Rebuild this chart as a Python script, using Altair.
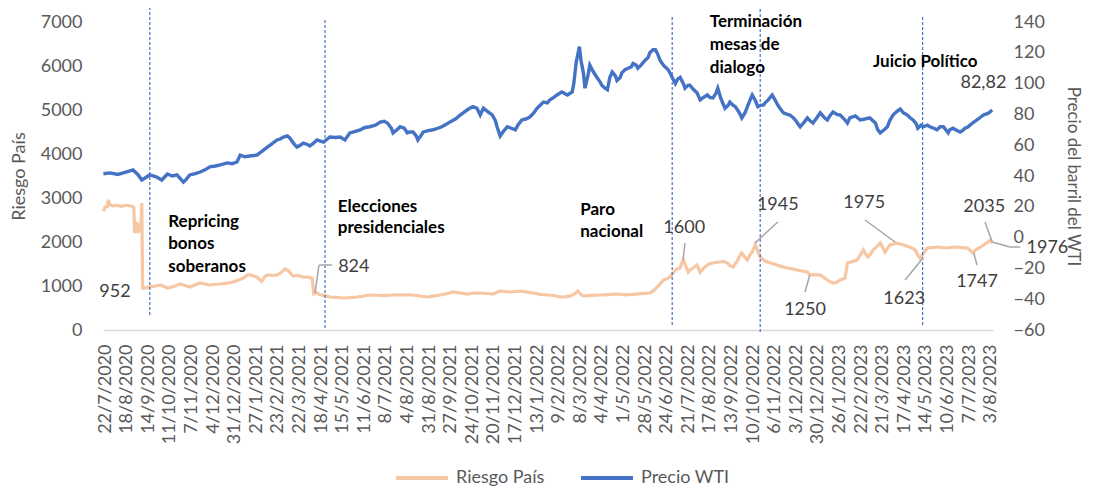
import altair as alt
import pandas as pd

# ---------------- data ----------------
START = pd.Timestamp("2020-07-22")  # day 0 of the offsets below

tick_labels = ["22/7/2020", "18/8/2020", "14/9/2020", "11/10/2020", "7/11/2020", "4/12/2020",
               "31/12/2020", "27/1/2021", "23/2/2021", "22/3/2021", "18/4/2021", "15/5/2021",
               "11/6/2021", "8/7/2021", "4/8/2021", "31/8/2021", "27/9/2021", "24/10/2021",
               "20/11/2021", "17/12/2021", "13/1/2022", "9/2/2022", "8/3/2022", "4/4/2022",
               "1/5/2022", "28/5/2022", "24/6/2022", "21/7/2022", "17/8/2022", "13/9/2022",
               "10/10/2022", "6/11/2022", "3/12/2022", "30/12/2022", "26/1/2023", "22/2/2023",
               "21/3/2023", "17/4/2023", "14/5/2023", "10/6/2023", "7/7/2023", "3/8/2023"]

left_ticks = [0, 1000, 2000, 3000, 4000, 5000, 6000, 7000]
right_ticks = [-60, -40, -20, 0, 20, 40, 60, 80, 100, 120, 140]

series_names = ["Riesgo País", "Precio WTI"]
series_colors = ["#F7C6A3", "#4472C4"]

# Precio WTI (days since 22/7/2020, USD)
wti_day = [-2, 6, 16, 26, 35, 41, 46, 51, 56, 64, 71, 78, 84, 90, 98, 101, 106, 113, 119, 125,
           131, 138, 144, 153, 159, 165, 169, 175, 181, 190, 196, 203, 209, 215, 219, 223, 228,
           231, 236, 240, 244, 248, 253, 256, 260, 265, 273, 278, 281, 288, 294, 300, 306, 313,
           319, 325, 331, 338, 344, 349, 353, 358, 360, 365, 369, 374, 378, 381, 385, 389, 391,
           398, 404, 410, 416, 421, 426, 431, 438, 444, 449, 453, 456, 460, 465, 469, 473, 478,
           484, 488, 490, 494, 498, 503, 508, 513, 516, 521, 526, 531, 536, 540, 544, 548, 553,
           556, 561, 565, 571, 578, 584, 586, 589, 593, 595, 598, 600, 604, 606, 610, 615, 619,
           621, 625, 628, 631, 634, 638, 640, 644, 646, 650, 654, 658, 660, 664, 666, 670, 675,
           679, 681, 685, 688, 691, 694, 698, 700, 704, 706, 710, 713, 716, 719, 723, 725, 729,
           731, 736, 740, 744, 748, 753, 756, 760, 764, 766, 770, 775, 779, 781, 785, 788, 793,
           796, 800, 803, 806, 809, 813, 816, 820, 823, 826, 829, 834, 838, 841, 845, 848, 853,
           856, 860, 863, 866, 869, 874, 878, 881, 885, 890, 894, 899, 903, 906, 910, 915, 919,
           924, 928, 931, 938, 944, 950, 956, 963, 966, 969, 974, 978, 981, 985, 990, 994, 998,
           1003, 1006, 1010, 1014, 1016, 1020, 1023, 1028, 1031, 1036, 1040, 1044, 1048, 1051,
           1054, 1056, 1060, 1065, 1069, 1073, 1075, 1079, 1081, 1086, 1090, 1094, 1098, 1103,
           1106, 1109]
wti_val = [41.5, 42, 41, 42.5, 43.9, 41, 37.4, 39, 40.7, 39.5, 37.4, 41.3, 40, 40.7, 36, 37.5,
           40.7, 41.5, 42.6, 44, 45.9, 46.5, 47.2, 48.5, 48, 49.1, 53.6, 52.5, 53, 53.6, 56, 58.8,
           61, 63.4, 64, 65.3, 66, 64.7, 61, 58.8, 60, 61.4, 60.5, 59.5, 61, 63.4, 62, 64, 65.3,
           65, 65.3, 63.4, 68, 69, 70, 71.5, 72, 73, 75, 75.5, 74.4, 71, 68, 70, 72, 71, 68, 68.6,
           68.6, 66, 63.4, 68.6, 69.5, 70, 71, 72, 73.5, 75, 77, 79.6, 81.5, 83, 84, 85, 84, 79.6,
           84, 82, 79.6, 76, 72, 66, 69, 72, 71, 70, 73, 76.4, 77, 78.3, 81, 84, 86, 88, 87.5,
           89.4, 91, 92.6, 94.6, 92.6, 94.6, 100, 114, 124, 115, 107, 97, 106, 112, 108, 104,
           101, 99, 97, 96, 104, 107.5, 105, 102, 104, 107, 109, 110, 111, 113, 112, 110, 112,
           115, 117, 120, 122, 122, 119, 115, 112, 111, 109, 107, 103, 100, 103, 104, 100, 97,
           99, 99, 96, 94, 89.4, 91, 92.6, 91, 90.7, 94, 97, 90, 84, 86, 88, 86, 85, 81, 77.7,
           81, 85, 89, 92.6, 89, 85, 86, 86, 88, 89.4, 92.6, 89, 86, 83, 81, 80, 79.6, 78, 76.4,
           74, 72, 75, 77.7, 76, 74.4, 78, 81, 78, 76.4, 79, 81.6, 80, 79.6, 77, 74.4, 77.7, 79,
           76.4, 77, 77.7, 74.4, 70, 68, 70, 72, 76, 79.6, 82, 83.5, 81, 79.6, 78, 76.4, 74, 71,
           73, 72, 73, 72, 71, 70, 72, 72, 70, 68, 70, 71, 69.5, 68.6, 70, 71, 72, 73, 75, 76.4,
           78, 79.6, 80.5, 81.5, 82.82]

# Riesgo País (days since 22/7/2020, points)
riesgo_day = [-2, 0, 3, 4, 6, 10, 15, 20, 25, 30, 35, 36, 37, 39, 40, 41, 42, 45, 46, 47, 50,
              56, 63, 69, 74, 78, 84, 89, 94, 100, 106, 113, 119, 125, 131, 138, 144, 151, 160,
              166, 173, 178, 181, 185, 190, 196, 200, 203, 209, 215, 220, 225, 229, 235, 241,
              248, 254, 259, 261, 264, 269, 275, 281, 290, 298, 306, 315, 323, 331, 339, 348,
              356, 363, 369, 378, 385, 394, 403, 410, 419, 428, 435, 444, 453, 460, 469, 478,
              485, 494, 500, 506, 513, 519, 528, 535, 544, 553, 560, 566, 573, 581, 588, 591,
              595, 598, 606, 619, 629, 640, 650, 660, 670, 681, 686, 690, 694, 698, 703, 706,
              710, 713, 716, 719, 721, 723, 725, 729, 731, 735, 740, 744, 748, 753, 756, 760,
              765, 769, 773, 778, 781, 785, 790, 794, 796, 800, 803, 806, 809, 813, 816, 819,
              824, 828, 834, 840, 846, 853, 859, 865, 871, 878, 881, 885, 890, 894, 899, 903,
              906, 910, 915, 919, 923, 925, 928, 931, 935, 940, 944, 948, 951, 954, 958, 960,
              965, 969, 973, 975, 979, 981, 985, 988, 993, 998, 1003, 1006, 1010, 1013, 1016,
              1019, 1023, 1028, 1034, 1040, 1046, 1053, 1059, 1065, 1071, 1078, 1081, 1085,
              1089, 1094, 1098, 1103, 1106, 1109]
riesgo_val = [2700, 2796, 2800, 2955, 2850, 2820, 2830, 2810, 2830, 2830, 2800, 2790, 2205,
              2300, 2455, 2205, 2250, 2400, 2886, 952, 952, 980, 1000, 1023, 990, 955, 980,
              1010, 1045, 1010, 977, 1030, 1068, 1045, 1023, 1040, 1045, 1060, 1090, 1130, 1182,
              1250, 1260, 1230, 1200, 1100, 1220, 1250, 1240, 1250, 1300, 1386, 1350, 1227,
              1240, 1205, 1200, 1170, 824, 850, 800, 780, 750, 740, 727, 735, 750, 770, 795,
              790, 780, 790, 800, 795, 800, 795, 770, 750, 770, 795, 830, 864, 840, 818, 840,
              841, 830, 818, 886, 870, 864, 875, 886, 860, 841, 810, 795, 790, 760, 750, 770,
              830, 886, 800, 773, 785, 795, 805, 818, 800, 810, 825, 841, 900, 977, 1050, 1136,
              1170, 1205, 1290, 1364, 1390, 1409, 1520, 1600, 1500, 1318, 1360, 1409, 1477,
              1310, 1400, 1477, 1510, 1523, 1540, 1545, 1560, 1523, 1460, 1432, 1560, 1700,
              1750, 1650, 1590, 1700, 1773, 1945, 1780, 1659, 1580, 1545, 1510, 1477, 1440,
              1409, 1390, 1364, 1340, 1318, 1250, 1260, 1255, 1250, 1190, 1136, 1100, 1068,
              1090, 1136, 1160, 1182, 1523, 1540, 1560, 1590, 1700, 1818, 1720, 1659, 1750,
              1818, 1900, 1977, 1850, 1773, 1880, 1932, 1950, 1975, 1960, 1932, 1900, 1886,
              1850, 1818, 1700, 1623, 1750, 1864, 1870, 1886, 1875, 1864, 1880, 1886, 1870,
              1864, 1820, 1747, 1830, 1880, 1932, 1990, 2035, 1976]

# events (vertical dashed lines), extents in Riesgo País units
event_day = [56, 275, 709, 819, 1022]
event_low = [341, 45, 114, -45, 114]
event_high = [7341, 7091, 7114, 7500, 7160]

# bold event annotations, one entry per text line
ann_text = ["Repricing", "bonos", "soberanos", "Elecciones", "presidenciales", "Paro",
            "nacional", "Terminación", "mesas de", "dialogo", "Juicio Político"]
ann_day = [79, 79, 79, 291, 291, 594, 594, 756, 756, 756, 960]
ann_val = [2455, 1955, 1432, 2796, 2318, 2728, 2228, 7000, 6480, 5960, 6091]

# data labels
lab_text = ["952", "824", "1600", "1945", "1250", "1975", "1623", "1747", "2035", "1976", "82,82"]
lab_day = [12.5, 311, 724, 841, 875, 949, 999, 1090, 1099, 1178, 1098]
lab_val = [864, 1432, 2318, 2841, 455, 2887, 705, 1091, 2796, 1864, 5614]

# leader lines of the data labels
lead_day = [262.5, 267.5, 722.5, 812.5, 881, 987.5, 1022.5, 1086, 1109, 1109, 1131]
lead_day2 = [267.5, 284, 725, 841, 875, 950, 1000, 1090, 1100, 1131, 1144]
lead_val = [841, 1477, 1591, 1977, 1250, 2000, 1636, 1750, 2000, 2000, 1886]
lead_val2 = [1477, 1477, 1977, 2455, 864, 2500, 1136, 1477, 2455, 1886, 1886]


# ---------------- tables ----------------
def to_ms(days):
    return [int((START + pd.Timedelta(days=float(d))).value // 10**6) for d in days]


riesgo_df = pd.DataFrame({"date": to_ms(riesgo_day), "v": riesgo_val, "s": series_names[0]})
wti_df = pd.DataFrame({"date": to_ms(wti_day), "w": wti_val, "s": series_names[1]})
event_df = pd.DataFrame({"date": to_ms(event_day), "v": event_low, "v2": event_high})
ann_df = pd.DataFrame({"date": to_ms(ann_day), "v": ann_val, "t": ann_text})
lab_df = pd.DataFrame({"date": to_ms(lab_day), "v": lab_val, "t": lab_text})
lead_df = pd.DataFrame({"date": to_ms(lead_day), "date2": to_ms(lead_day2),
                        "v": lead_val, "v2": lead_val2})


def dt(label):
    d, m, y = (int(p) for p in label.split("/"))
    return alt.DateTime(year=y, month=m, date=d, utc=True)


tick_dates = [dt(s) for s in tick_labels]

FONT = "Lato"
GREY = "#595959"

x_enc = alt.X(
    "date:T",
    scale=alt.Scale(type="utc",
                    domain=[alt.DateTime(year=2020, month=7, date=19, hours=12, utc=True),
                            alt.DateTime(year=2023, month=8, date=6, utc=True)]),
    axis=alt.Axis(values=tick_dates, labelExpr="utcFormat(datum.value, '%-d/%-m/%Y')",
                  labelAngle=270, labelPadding=14, ticks=False, tickSize=0, grid=False,
                  domainColor="#D9D9D9", domainWidth=1.5, labelFont=FONT, labelFontSize=18,
                  labelColor=GREY, labelOverlap=False, labelFlush=False, title=None),
)

left_axis = alt.Axis(title="Riesgo País", values=left_ticks, format="d", domain=False,
                     ticks=False, tickSize=0, grid=False, labelPadding=21, labelFont=FONT,
                     labelFontSize=18, labelColor=GREY, titleFont=FONT, titleFontSize=18,
                     titleColor=GREY, titleFontWeight="normal", titlePadding=12)
left_scale = alt.Scale(domain=[0, 7000], nice=False, zero=False)
y_left = alt.Y("v:Q", scale=left_scale, axis=left_axis)

right_axis = alt.Axis(title="Precio del barril del WTI", orient="right", values=right_ticks,
                      format="d", domain=False, ticks=False, tickSize=0, grid=False,
                      labelPadding=20, labelFont=FONT, labelFontSize=18, labelColor=GREY,
                      titleFont=FONT, titleFontSize=17, titleColor=GREY,
                      titleFontWeight="normal", titlePadding=19)

color_enc = alt.Color(
    "s:N",
    scale=alt.Scale(domain=series_names, range=series_colors),
    legend=alt.Legend(title=None, orient="none", legendX=291, legendY=428,
                      direction="horizontal", symbolType="stroke", symbolSize=2704,
                      symbolStrokeWidth=4, labelFont=FONT, labelFontSize=18, labelColor=GREY,
                      labelOffset=6, columnPadding=28),
)

orange = alt.Chart(riesgo_df).mark_line(strokeWidth=3.2).encode(
    x=x_enc, y=y_left, color=color_enc,
)

events = alt.Chart(event_df).mark_rule(color="#4472C4", strokeDash=[3, 2], strokeWidth=1.2).encode(
    x=x_enc, y=y_left, y2="v2:Q"
)

leaders = alt.Chart(lead_df).mark_rule(color="#A6A6A6", strokeWidth=1.5).encode(
    x=x_enc, x2="date2:T", y=y_left, y2="v2:Q"
)

labels = alt.Chart(lab_df).mark_text(font=FONT, fontSize=18, color="#404040", align="center",
                                     baseline="middle").encode(x=x_enc, y=y_left, text="t:N")

anns = alt.Chart(ann_df).mark_text(font=FONT, fontSize=17, fontWeight="bold", color="#000000",
                                   align="left", baseline="middle").encode(
    x=x_enc, y=y_left, text="t:N")

left_group = alt.layer(orange, events, leaders, labels, anns)

blue = alt.Chart(wti_df).mark_line(strokeWidth=3.4).encode(
    x=x_enc,
    y=alt.Y("w:Q", scale=alt.Scale(domain=[-60, 140], nice=False, zero=False), axis=right_axis),
    color=color_enc,
)

chart = alt.layer(left_group, blue).resolve_scale(y="independent").properties(
    width=890, height=308,
    padding={"left": 95, "top": 14, "right": 92, "bottom": 158},
    autosize=alt.AutoSizeParams(type="none"),
).configure_view(stroke=None)

chart.save("out.html", embed_options={"renderer": "svg", "actions": False})
